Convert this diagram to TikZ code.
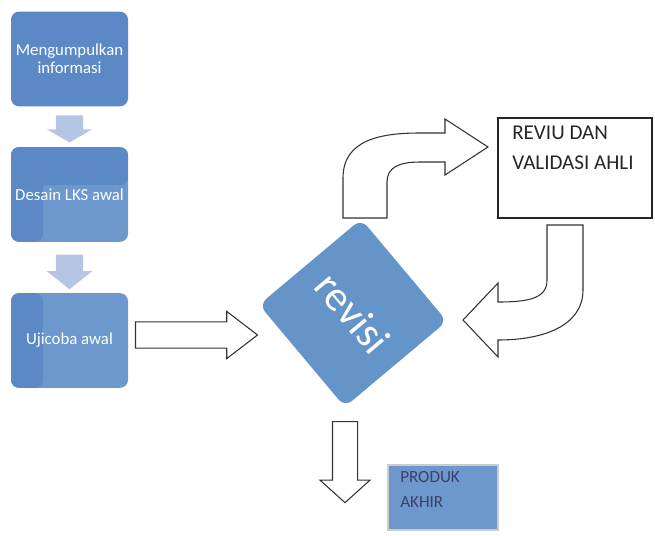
\documentclass[tikz,border=0pt]{standalone}
\usepackage{fontspec}
\setmainfont{Carlito}
\usetikzlibrary{shapes.arrows}
\definecolor{stepdark}{HTML}{5A89C6}
\definecolor{steplight}{HTML}{6C98CD}
\definecolor{flowarrow}{HTML}{B4C6E4}
\definecolor{revblue}{HTML}{6594C9}
\definecolor{prodtext}{HTML}{3F3F6A}

\begin{document}
\begin{tikzpicture}[
    x=0.75pt, y=-0.75pt,
    stepbox/.style={rectangle, rounded corners=6pt, fill=steplight, minimum width=87.75pt,
        minimum height=71pt, inner sep=2pt, text=white, align=center,
        font=\fontsize{12.6}{13.5}\selectfont},
    flowdown/.style={single arrow, fill=flowarrow, rotate=-90, inner xsep=0pt, inner ysep=10pt,
        single arrow head extend=6.8pt},
    hollow/.style={single arrow, draw=black!80, line width=0.8pt, fill=white, inner xsep=0pt},
    curvy/.style={draw=black!80, line width=0.8pt, fill=white}
]
    \useasboundingbox (0,0) rectangle (655,535);

    % Stages on the left
    \node[stepbox, fill=stepdark] (stage1) at (69.5,59) {Mengumpulkan\\informasi};
    \node[stepbox, path picture={
        \fill[stepdark] (path picture bounding box.north west) rectangle ([yshift=-28.5pt]path picture bounding box.north east);
        \fill[stepdark] (path picture bounding box.north west) rectangle ([xshift=24pt]path picture bounding box.south west);
    }] (stage2) at (69.5,194.5) {Desain LKS awal};
    \node[stepbox, path picture={
        \fill[stepdark] (path picture bounding box.north west) rectangle ([xshift=24pt]path picture bounding box.south west);
    }] (stage3) at (69.5,340.5) {Ujicoba awal};

    \node[flowdown, minimum height=20.25pt, single arrow tip angle=120] (down1) at (69.5,125) {};
    \node[flowdown, minimum height=26pt, single arrow tip angle=103] (down2) at (69.5,266.5) {};

    % Revision step
    \node[rectangle, rounded corners=7pt, fill=revblue, minimum size=100pt, rotate=-50,
        text=white, font=\fontsize{32}{34}\selectfont] (revisi) at (353,313) {revisi};

    \node[hollow, minimum height=91.5pt, inner ysep=9.4pt, single arrow head extend=7.9pt,
        single arrow tip angle=75] (toRevisi) at (188,335) {};

    % Expert review
    \node[draw=black!85, line width=0.8pt, fill=white, minimum width=115.5pt, minimum height=75pt] (reviu) at (575,168) {};
    \node[anchor=north west, align=left, inner sep=0pt, font=\fontsize{15.8}{22.5}\selectfont,
        text=black!85] (reviuText) at (512,126) {REVIU DAN\\VALIDASI AHLI};

    % Curved arrows between revisi and reviu
    \path[curvy] (343,218) -- (343,178) .. controls (343,140) and (380,133) .. (420,133)
        -- (445,133) -- (445,119) -- (488,147) -- (445,175) -- (445,162) -- (420,162)
        .. controls (398,162) and (387,168) .. (387,182) -- (387,218) -- cycle;
    \path[curvy] (547,225) -- (583,225) -- (583,290) .. controls (583,325) and (545,340) .. (498,340)
        -- (498,357) -- (463,320) -- (498,283) -- (498,302)
        .. controls (530,302) and (547,298) .. (547,280) -- cycle;

    % Final product
    \node[hollow, rotate=-90, minimum height=60.75pt, inner ysep=9pt, single arrow head extend=9.4pt,
        single arrow tip angle=96] (toProduk) at (345,456.5) {};
    \node[fill=steplight, draw=black!20, line width=0.8pt, minimum width=82.5pt, minimum height=48.75pt] (produk) at (443,497.5) {};
    \node[anchor=north west, align=left, inner sep=0pt, font=\fontsize{12.8}{18.75}\selectfont,
        text=prodtext] (produkText) at (400,471) {PRODUK\\AKHIR};
\end{tikzpicture}
\end{document}
